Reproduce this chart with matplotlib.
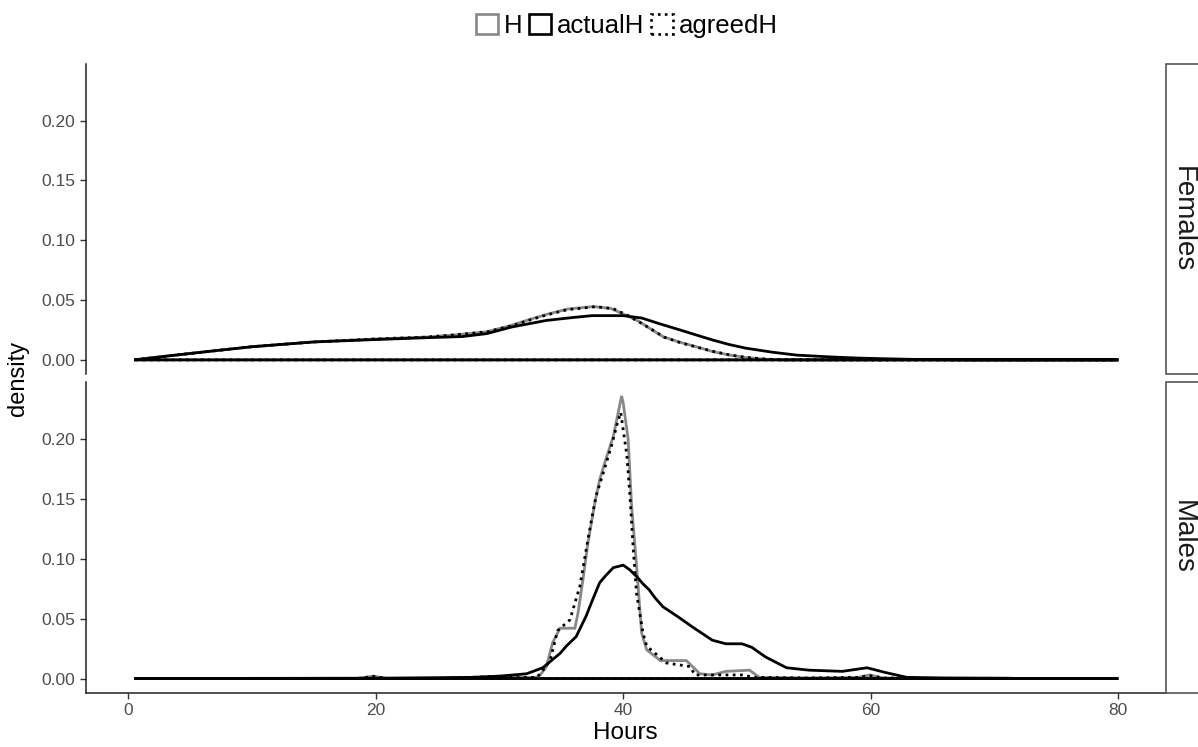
import matplotlib
matplotlib.use("Agg")
import matplotlib.pyplot as plt
from matplotlib.patches import Patch, Rectangle

plt.rcParams['font.family'] = ['Liberation Sans', 'DejaVu Sans']

series = ['H', 'actualH', 'agreedH']
panels = ['Females', 'Males']

# density curves (hours, density)
fem_H_x = [0.5, 3, 6, 10, 15, 20, 24, 26.5, 29, 31, 32.5, 33.8, 35.5, 37.6, 39, 40.3, 41.3,
           42.2, 43.2, 44.5, 45.9, 47.2, 48.6, 49.9, 51.5, 53, 80]
fem_H_y = [0, 0.003, 0.0065, 0.011, 0.015, 0.0175, 0.019, 0.021, 0.0235, 0.029, 0.034, 0.038,
           0.0425, 0.0446, 0.043, 0.037, 0.032, 0.026, 0.0195, 0.015, 0.011, 0.007, 0.004,
           0.002, 0.0006, 0, 0]

fem_actual_x = [0.5, 3, 6, 10, 15, 20, 24, 27, 29, 31, 33.8, 36, 37.5, 40, 41.5, 43, 44.6, 46,
                47.2, 48.5, 49.9, 52, 54, 56.7, 59, 61, 64, 68, 80]
fem_actual_y = [0, 0.003, 0.0065, 0.011, 0.015, 0.017, 0.0185, 0.0195, 0.022, 0.0275, 0.033,
                0.0355, 0.037, 0.037, 0.035, 0.030, 0.025, 0.0205, 0.0167, 0.013, 0.0098,
                0.0065, 0.004, 0.0025, 0.0015, 0.001, 0.0003, 0, 0]

fem_agreed_x = [0.5, 3, 6, 10, 15, 20, 24, 26.5, 29, 31, 32.5, 33.8, 35.5, 37.8, 39.2, 40.4,
                41.4, 42.3, 43.3, 44.6, 46, 47.3, 48.7, 50, 51.6, 53, 80]
fem_agreed_y = [0, 0.003, 0.0065, 0.011, 0.015, 0.0175, 0.019, 0.021, 0.0235, 0.0285, 0.0335,
                0.0375, 0.042, 0.0445, 0.0428, 0.037, 0.031, 0.0255, 0.019, 0.0145, 0.0105,
                0.007, 0.004, 0.002, 0.0006, 0, 0]

male_H_x = [0.5, 18.5, 19.8, 21, 25, 29, 30, 31, 33, 33.3, 33.8, 34.3, 34.9, 36.1, 36.35,
            36.75, 37.15, 37.7, 38.1, 38.6, 39.2, 39.6, 39.87, 40.0, 40.4, 40.68, 41.08, 41.49,
            41.9, 43.0, 45.1, 46.2, 47.2, 48.3, 50.2, 51.0, 55, 59, 59.9, 61, 65, 80]
male_H_y = [0, 0, 0.002, 0, 0, 0.0015, 0.002, 0.001, 0.001, 0.003, 0.010, 0.030, 0.042, 0.042,
            0.0547, 0.0825, 0.113, 0.146, 0.166, 0.183, 0.202, 0.222, 0.2358, 0.230, 0.1996,
            0.144, 0.094, 0.038, 0.024, 0.015, 0.015, 0.004, 0.003, 0.006, 0.007, 0.001,
            0.0005, 0.001, 0.003, 0.0005, 0, 0]

male_actual_x = [0.5, 20, 28, 30, 32.2, 33.5, 34.9, 35.4, 36.2, 37.0, 37.5, 38.1, 38.6, 39.2,
                 40.0, 40.5, 41.1, 41.6, 42.1, 42.6, 43.2, 44.5, 45.6, 47.2, 48.3, 49.6, 50.4,
                 51.5, 53.2, 55, 57.7, 59.7, 61.2, 62.9, 66, 71, 72, 80]
male_actual_y = [0, 0.0003, 0.001, 0.002, 0.004, 0.009, 0.021, 0.027, 0.035, 0.052, 0.065,
                 0.080, 0.086, 0.0925, 0.0946, 0.091, 0.085, 0.079, 0.074, 0.067, 0.060, 0.051,
                 0.043, 0.032, 0.029, 0.029, 0.026, 0.018, 0.009, 0.007, 0.006, 0.009, 0.005,
                 0.001, 0.0005, 0.0003, 0, 0]

male_agreed_x = [0.5, 18.5, 19.8, 21, 25, 29, 30, 31, 33, 33.3, 34.1, 34.7, 35.7, 36.5, 37.15,
                 37.4, 37.8, 38.4, 39.05, 39.5, 39.8, 40.3, 40.55, 40.8, 41.08, 41.6, 41.9, 43.5,
                 45.4, 45.8, 47.3, 48.3, 49.6, 50.6, 55, 59, 59.9, 61, 65, 80]
male_agreed_y = [0, 0, 0.0018, 0, 0, 0.0015, 0.002, 0.001, 0.001, 0.004, 0.015, 0.040, 0.049,
                 0.077, 0.116, 0.130, 0.152, 0.172, 0.194, 0.212, 0.222, 0.186, 0.152, 0.110,
                 0.071, 0.038, 0.027, 0.013, 0.010, 0.003, 0.003, 0.003, 0.003, 0.001, 0.0005,
                 0.001, 0.0025, 0.0005, 0, 0]

curves = {
    'Females': [(fem_H_x, fem_H_y), (fem_actual_x, fem_actual_y), (fem_agreed_x, fem_agreed_y)],
    'Males': [(male_H_x, male_H_y), (male_actual_x, male_actual_y), (male_agreed_x, male_agreed_y)],
}

colors = ['#888888', 'black', 'black']
styles = ['-', '-', (0, (1, 1.6))]

x_ticks = [0, 20, 40, 60, 80]
y_ticks = [0.00, 0.05, 0.10, 0.15, 0.20]

W, H = 1198, 747
fig = plt.figure(figsize=(W / 100, H / 100), dpi=100)

left, right = 85.7, 1166
boxes = {'Females': (64, 374), 'Males': (382, 692.7)}

for name in panels:
    top, bot = boxes[name]
    ax = fig.add_axes([left / W, 1 - bot / H, (right - left) / W, (bot - top) / H])
    for (x, y), c, ls in zip(curves[name], colors, styles):
        ax.fill(x, y, facecolor='none', edgecolor=c, lw=2.0, linestyle=ls)
    ax.set_xlim(-3.42, 83.85)
    ax.set_ylim(-0.0118, 0.2474)
    ax.set_yticks(y_ticks)
    ax.set_yticklabels(['%.2f' % v for v in y_ticks])
    ax.set_xticks(x_ticks)
    for s in ['top', 'right']:
        ax.spines[s].set_visible(False)
    ax.spines['left'].set_linewidth(1.1)
    ax.spines['left'].set_color('#222222')
    ax.tick_params(axis='both', colors='#333333', labelcolor='#4D4D4D',
                   labelsize=12.5, length=4, width=1)
    if name == 'Females':
        ax.spines['bottom'].set_visible(False)
        ax.tick_params(axis='x', bottom=False, labelbottom=False)
    else:
        ax.spines['bottom'].set_linewidth(1.1)
        ax.spines['bottom'].set_color('#222222')

    # facet strip on the right
    fig.patches.append(Rectangle((right / W, 1 - bot / H), 60 / W, (bot - top) / H,
                                 transform=fig.transFigure, facecolor='white',
                                 edgecolor='#555555', lw=1.2, clip_on=False))
    fig.text(1183 / W, 1 - (top + bot) / 2 / H, name, rotation=-90, ha='center',
             va='center', fontsize=20, color='#1A1A1A')

fig.text(18 / W, 1 - 378 / H, 'density', rotation=90, ha='center', va='center',
         fontsize=17, color='black')
fig.text(625 / W, 1 - 733 / H, 'Hours', ha='center', va='center', fontsize=17.5,
         color='black')

handles = [Patch(facecolor='none', edgecolor=c, linestyle=ls, lw=1.9)
           for c, ls in zip(colors, styles)]
fig.legend(handles, series, loc='center', bbox_to_anchor=(627 / W, 1 - 26 / H), ncol=3,
           frameon=False, fontsize=18.5, handlelength=0.85, handleheight=0.85,
           handletextpad=0.25, columnspacing=0.25, borderaxespad=0)

fig.savefig('out.png', dpi=100)
